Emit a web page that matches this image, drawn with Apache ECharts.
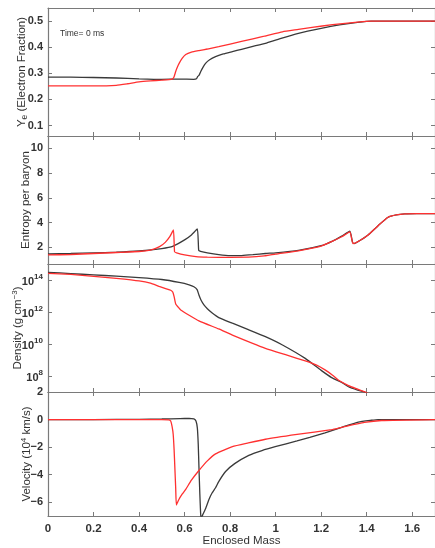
<!DOCTYPE html>
<html>
<head>
<meta charset="utf-8">
<script src="https://cdn.jsdelivr.net/npm/echarts@6/dist/echarts.min.js"></script>
<style>
  html, body { margin: 0; padding: 0; background: #fff; }
  #chart { width: 435px; height: 548px; }
</style>
</head>
<body>
<div id="chart"></div>
<script>
// x 轴刻度
var massTicks = [0, 0.2, 0.4, 0.6, 0.8, 1, 1.2, 1.4, 1.6];

// Ye 面板
var yeTicks = [0.1, 0.2, 0.3, 0.4, 0.5];
var yeMassBlack = [0, 0.1, 0.2, 0.3, 0.4, 0.5, 0.58, 0.64, 0.652, 0.658, 0.664, 0.671, 0.68, 0.692, 0.71, 0.736, 0.77, 0.81, 0.85, 0.9, 0.955, 1.02, 1.1, 1.2, 1.28, 1.36, 1.42, 1.7];
var yeBlack = [0.285, 0.285, 0.284, 0.282, 0.279, 0.277, 0.278, 0.277, 0.279, 0.288, 0.293, 0.307, 0.322, 0.338, 0.352, 0.364, 0.374, 0.383, 0.392, 0.403, 0.415, 0.433, 0.453, 0.472, 0.485, 0.495, 0.5, 0.5];
var yeMassRed = [0, 0.1, 0.2, 0.3, 0.35, 0.4, 0.45, 0.5, 0.545, 0.553, 0.561, 0.568, 0.576, 0.59, 0.605, 0.63, 0.663, 0.7, 0.75, 0.85, 0.95, 1.03, 1.1, 1.16, 1.25, 1.36, 1.42, 1.7];
var yeRed = [0.252, 0.252, 0.252, 0.254, 0.26, 0.267, 0.271, 0.274, 0.278, 0.285, 0.307, 0.323, 0.338, 0.358, 0.372, 0.381, 0.387, 0.393, 0.402, 0.422, 0.442, 0.459, 0.468, 0.476, 0.486, 0.496, 0.5, 0.5];

// 熵面板
var entTicks = [2, 4, 6, 8, 10];
var entMassBlack = [0, 0.1, 0.2, 0.3, 0.4, 0.5, 0.55, 0.6, 0.63, 0.656, 0.662, 0.67, 0.7, 0.75, 0.8, 0.85, 0.9, 0.955, 1.0, 1.1, 1.2, 1.25, 1.29, 1.326, 1.338, 1.345, 1.37, 1.406, 1.45, 1.494, 1.53, 1.567, 1.62, 1.7];
var entBlack = [1.46, 1.5, 1.55, 1.6, 1.7, 1.9, 2.1, 2.6, 3.0, 3.48, 1.75, 1.68, 1.55, 1.4, 1.32, 1.33, 1.4, 1.5, 1.55, 1.75, 2.13, 2.5, 2.9, 3.3, 2.4, 2.3, 2.55, 3.0, 3.75, 4.43, 4.62, 4.7, 4.72, 4.72];
var entMassRed = [0, 0.1, 0.2, 0.3, 0.4, 0.45, 0.49, 0.515, 0.535, 0.551, 0.556, 0.565, 0.6, 0.65, 0.7, 0.8, 0.88, 0.95, 1.0, 1.1, 1.2, 1.25, 1.29, 1.326, 1.34, 1.37, 1.406, 1.45, 1.494, 1.53, 1.567, 1.62, 1.7];
var entRed = [1.38, 1.42, 1.5, 1.58, 1.66, 1.78, 2.05, 2.4, 2.86, 3.4, 1.64, 1.55, 1.38, 1.24, 1.2, 1.19, 1.2, 1.3, 1.45, 1.72, 2.1, 2.5, 2.85, 3.25, 2.3, 2.55, 3.0, 3.75, 4.43, 4.62, 4.7, 4.72, 4.72];

// 密度面板 (log10 g/cm^3)
var densTicks = [1e8, 1e10, 1e12, 1e14];
var densMassBlack = [0, 0.1, 0.2, 0.3, 0.4, 0.5, 0.576, 0.62, 0.641, 0.655, 0.663, 0.672, 0.685, 0.7, 0.72, 0.75, 0.81, 0.88, 0.955, 1.03, 1.13, 1.2, 1.246, 1.29, 1.32, 1.36, 1.39, 1.42];
var densLogBlack = [14.48, 14.4, 14.32, 14.24, 14.15, 14.03, 13.85, 13.7, 13.58, 13.4, 13.06, 12.75, 12.44, 12.2, 11.95, 11.65, 11.3, 10.9, 10.46, 9.94, 9.1, 8.35, 7.9, 7.6, 7.33, 7.12, 7.0, 6.8];
var densMassRed = [0, 0.1, 0.226, 0.3, 0.4, 0.45, 0.488, 0.52, 0.539, 0.548, 0.554, 0.561, 0.572, 0.583, 0.62, 0.663, 0.75, 0.81, 0.955, 1.05, 1.13, 1.18, 1.217, 1.25, 1.275, 1.32, 1.36, 1.39, 1.42];
var densLogRed = [14.42, 14.35, 14.2, 14.1, 13.94, 13.8, 13.6, 13.45, 13.36, 13.25, 12.96, 12.5, 12.3, 12.13, 11.8, 11.45, 10.94, 10.56, 9.73, 9.3, 8.94, 8.68, 8.38, 8.05, 7.75, 7.4, 7.18, 7.02, 6.8];

// 速度面板 (10^4 km/s)
var velTicks = [-6, -4, -2, 0, 2];
var velMassBlack = [0, 0.2, 0.4, 0.5, 0.58, 0.62, 0.641, 0.65, 0.656, 0.66, 0.663, 0.667, 0.671, 0.674, 0.68, 0.692, 0.707, 0.72, 0.736, 0.75, 0.78, 0.82, 0.882, 0.94, 0.998, 1.094, 1.15, 1.217, 1.29, 1.363, 1.42, 1.45, 1.7];
var velBlack = [0, 0, 0.02, 0.04, 0.07, 0.08, 0.05, -0.1, -0.6, -1.8, -3.4, -5.4, -6.95, -7.1, -6.9, -6.48, -5.8, -5.35, -4.95, -4.5, -3.77, -3.2, -2.6, -2.25, -1.97, -1.55, -1.3, -0.96, -0.56, -0.18, -0.05, 0, 0];
var velMassRed = [0, 0.2, 0.4, 0.5, 0.53, 0.539, 0.545, 0.55, 0.554, 0.557, 0.561, 0.564, 0.575, 0.59, 0.605, 0.63, 0.663, 0.7, 0.736, 0.81, 0.88, 0.955, 1.094, 1.246, 1.29, 1.39, 1.465, 1.7];
var velRed = [0, 0, 0, 0, -0.02, -0.1, -0.5, -1.08, -2.2, -3.4, -5.0, -6.2, -5.8, -5.4, -5.07, -4.4, -3.7, -3.0, -2.49, -1.97, -1.7, -1.43, -1.08, -0.73, -0.56, -0.21, -0.07, 0];

var BLACK = '#3a3a3a';
var RED = '#ff3030';
var AXIS = '#7a7a7a';
var FONT = '"Liberation Sans", Arial, Helvetica, sans-serif';

function zip(xs, ys) {
  return xs.map(function (x, i) { return [x, ys[i]]; });
}

var gridTops = [8, 136, 264, 392];
var gridHeights = [128, 128, 128, 127];

var grids = gridTops.map(function (t, i) {
  return { left: 48, width: 389, top: t, height: gridHeights[i] };
});

var xAxes = [];
for (var i = 0; i < 4; i++) {
  ['bottom', 'top'].forEach(function (pos) {
    var last = (i === 3 && pos === 'bottom');
    xAxes.push({
      type: 'value', gridIndex: i, position: pos,
      min: 0, max: 1.7, interval: 0.2,
      axisLine: { show: true, onZero: false, lineStyle: { color: AXIS, width: 1.2 } },
      axisTick: { show: true, inside: true, length: 4, lineStyle: { color: AXIS }, customValues: massTicks },
      axisLabel: {
        show: last, customValues: massTicks, margin: 7,
        fontFamily: FONT, fontSize: 11.5, fontWeight: 'bold', color: '#333'
      },
      splitLine: { show: false },
      name: last ? 'Enclosed Mass' : '',
      nameLocation: 'middle', nameGap: 19, nameMoveOverlap: false,
      nameTextStyle: { fontFamily: FONT, fontSize: 11.5, color: '#333' }
    });
  });
}

var nameRich = {
  n: { fontFamily: FONT, fontSize: 11.5, color: '#333', lineHeight: 14, verticalAlign: 'middle' },
  sup: { fontFamily: FONT, fontSize: 8, color: '#333', lineHeight: 8, verticalAlign: 'top' },
  sub: { fontFamily: FONT, fontSize: 8.5, color: '#333', lineHeight: 8, verticalAlign: 'bottom' }
};

var yDefs = [
  { type: 'value', min: 0.06, max: 0.55, ticks: yeTicks,
    name: '{n|Y}{sub|e}{n| (Electron Fraction)}', gap: 19,
    fmt: function (v) { return v.toFixed(1); } },
  { type: 'value', min: 0.65, max: 11, ticks: entTicks,
    name: '{n|Entropy per baryon}', gap: 15,
    fmt: function (v) { return String(v); } },
  { type: 'log', min: 1e7, max: 1e15, ticks: densTicks,
    name: '{n|Density (g cm}{sup|−3}{n|)}', gap: 23,
    fmt: function (v) { return '{b|10}{s|' + Math.round(Math.log10(v)) + '}'; } },
  { type: 'value', min: -7, max: 2, ticks: velTicks,
    name: '{n|Velocity (10}{sup|4}{n| km/s)}', gap: 14,
    fmt: function (v) { return v < 0 ? '−' + (-v) : String(v); } }
];

var yAxes = [];
yDefs.forEach(function (d, i) {
  ['left', 'right'].forEach(function (pos) {
    var main = pos === 'left';
    var ax = {
      type: d.type, gridIndex: i, position: pos,
      min: d.min, max: d.max,
      axisLine: { show: true, onZero: false, lineStyle: { color: AXIS, width: 1.2 } },
      axisTick: { show: true, inside: true, length: 4, lineStyle: { color: AXIS }, customValues: d.ticks },
      axisLabel: {
        show: main, customValues: d.ticks, margin: 5,
        fontFamily: FONT, fontSize: 11, fontWeight: 'bold', color: '#333',
        formatter: d.fmt,
        rich: {
          b: { fontFamily: FONT, fontSize: 11, fontWeight: 'bold', color: '#333', lineHeight: 15, verticalAlign: 'bottom' },
          s: { fontFamily: FONT, fontSize: 8, fontWeight: 'bold', color: '#333', lineHeight: 9, verticalAlign: 'top' }
        }
      },
      splitLine: { show: false },
      minorTick: { show: false }
    };
    if (d.type === 'log') ax.logBase = 10;
    if (main) {
      ax.name = d.name;
      ax.nameLocation = 'middle';
      ax.nameRotate = 90;
      ax.nameGap = d.gap;
      ax.nameMoveOverlap = false;
      ax.nameTextStyle = { rich: nameRich };
    }
    yAxes.push(ax);
  });
});

function line(data, color, idx) {
  return {
    type: 'line', data: data, xAxisIndex: idx * 2, yAxisIndex: idx * 2,
    showSymbol: false, symbol: 'none', smooth: 0.15, clip: true,
    lineStyle: { color: color, width: 1.3 }, z: color === RED ? 3 : 2
  };
}

function pow10(arr) {
  return arr.map(function (e) { return Math.pow(10, e); });
}

var series = [
  line(zip(yeMassBlack, yeBlack), BLACK, 0),
  line(zip(yeMassRed, yeRed), RED, 0),
  line(zip(entMassBlack, entBlack), BLACK, 1),
  line(zip(entMassRed, entRed), RED, 1),
  line(zip(densMassBlack, pow10(densLogBlack)), BLACK, 2),
  line(zip(densMassRed, pow10(densLogRed)), RED, 2),
  line(zip(velMassBlack, velBlack), BLACK, 3),
  line(zip(velMassRed, velRed), RED, 3)
];

var chart = echarts.init(document.getElementById('chart'), null, { renderer: 'canvas' });
chart.setOption({
  animation: false,
  backgroundColor: '#fff',
  grid: grids,
  xAxis: xAxes,
  yAxis: yAxes,
  series: series,
  graphic: [{
    type: 'text', left: 60, top: 29,
    style: { text: 'Time= 0 ms', fontFamily: FONT, fontSize: 8.5, fill: '#333' }
  }]
});
</script>
</body>
</html>
